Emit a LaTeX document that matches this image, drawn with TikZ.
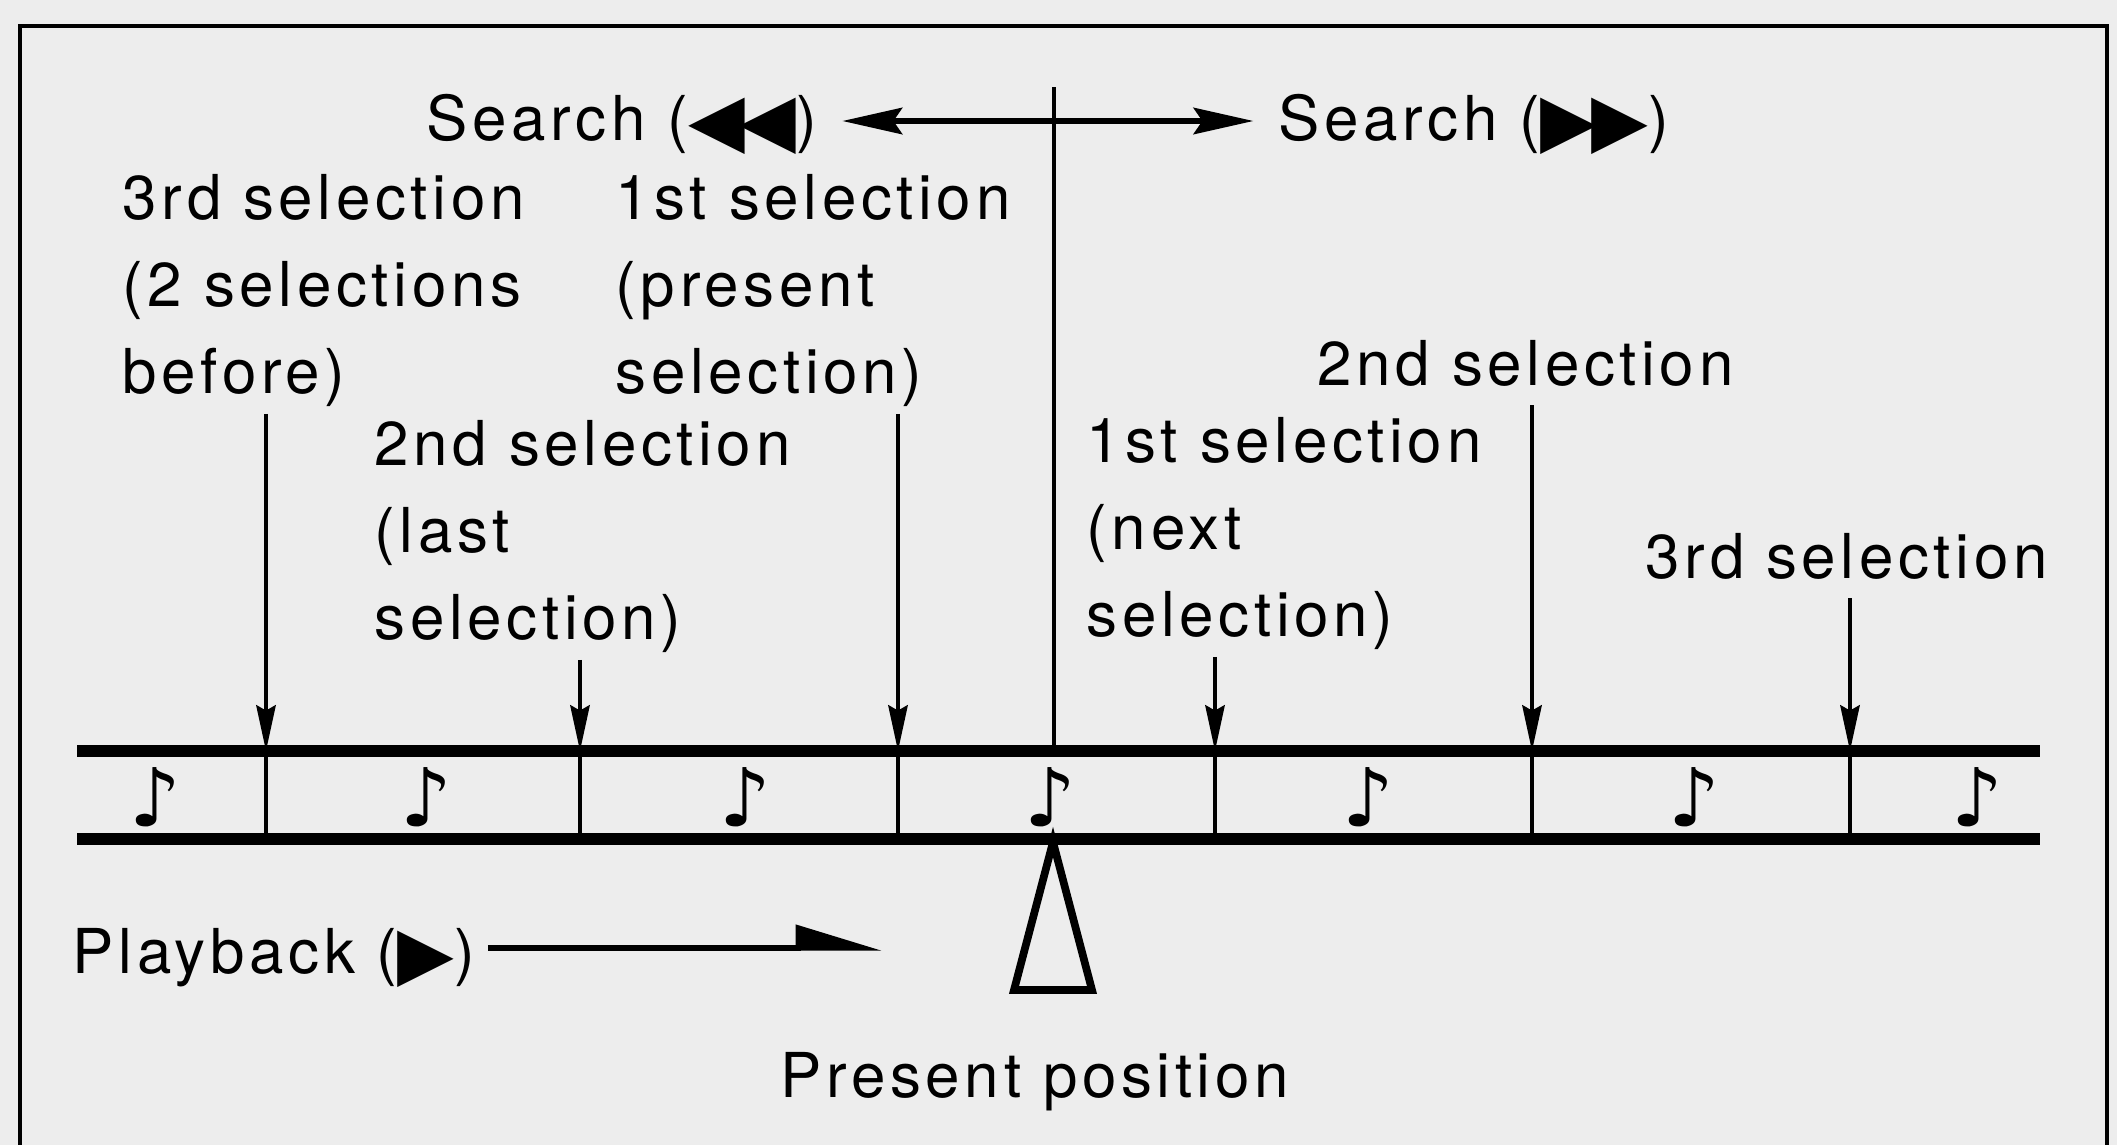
\documentclass[tikz,border=0pt]{standalone}
\usepackage{fontspec}
\setmainfont{TeX Gyre Heros}[LetterSpace=7.5]
\newfontfamily\symfont{DejaVu Sans}
\usetikzlibrary{arrows.meta}
\newcommand{\rewsym}{{\symfont\fontsize{21}{21}\selectfont\raisebox{-1.5pt}{◀\kern-1.5pt◀}}}
\newcommand{\ffsym}{{\symfont\fontsize{21}{21}\selectfont\raisebox{-1.5pt}{▶\kern-1.5pt▶}}}
\newcommand{\playsym}{{\symfont\fontsize{21}{21}\selectfont\raisebox{-1.5pt}{▶}}}
\tikzset{
  lbl/.style={anchor=base west, align=left, inner sep=0pt,
    font=\fontsize{17.6}{24.7}\selectfont},
  frame/.style={line width=1.3pt},
  tape/.style={line width=3.4pt},
  tick/.style={line width=1.2pt},
  pick/.style={tick, shorten <=2pt, -{Stealth[length=13pt,width=5.5pt,inset=1.5pt]}},
  srch/.style={line width=1.6pt, shorten <=7pt, shorten >=7pt,
    {Stealth[length=17pt,width=7.5pt,inset=2.5pt]}-{Stealth[length=17pt,width=7.5pt,inset=2.5pt]}},
  playarrow/.style={line width=1.5pt, shorten <=3.5pt, -{Triangle[harpoon,length=22pt,width=13pt]}},
  marker/.style={line width=2.2pt, line join=miter},
  quaver/.style={inner sep=0pt, font=\symfont\fontsize{23}{23}\selectfont}
}
\begin{document}
\begin{tikzpicture}[x=0.01cm, y=-0.01cm, line cap=butt]
\useasboundingbox (0,0) rectangle (2117,1145);
\fill[black!7] (0,0) rectangle (2117,1145);
\draw[frame] (20,1145) -- (20,26) -- (2107,26) -- (2107,1145);

% labels (base = last line)
\node[lbl] (srchL) at (426,140) {Search (\rewsym)};
\node[lbl] (srchR) at (1278,140) {Search (\ffsym)};
\node[lbl] (sel3L) at (122,393) {3rd selection\\(2 selections\\before)};
\node[lbl] (sel1L) at (615,393) {1st selection\\(present\\selection)};
\node[lbl] (sel2L) at (374,639) {2nd selection\\(last\\selection)};
\node[lbl] (sel1R) at (1086,636) {1st selection\\(next\\selection)};
\node[lbl, text depth=3.6pt] (sel2R) at (1317,385) {2nd selection};
\node[lbl, text depth=3.6pt] (sel3R) at (1645,578) {3rd selection};
\node[lbl] (play) at (72,973) {Playback (\playsym)};
\node[lbl] (pres) at (780,1097) {Present position};

% tape
\coordinate (tapeNW) at (77,751);
\coordinate (tapeNE) at (2040,751);
\coordinate (tapeSW) at (77,839);
\coordinate (tapeSE) at (2040,839);
\draw[tape] (tapeNW) -- (tapeNE);
\draw[tape] (tapeSW) -- (tapeSE);

% search direction
\coordinate (top) at (1054,87);
\coordinate (hub) at (1054,121);
\draw[tick] (top) -- (top |- tapeNW);
\draw[srch] (srchL.east |- hub) -- (srchR.west |- hub);

% selection starts
\foreach \lbl/\x [count=\i] in {sel3L/266,sel2L/580,sel1L/898,sel1R/1215,sel2R/1532,sel3R/1850}{
  \coordinate (t\i) at (\x,751);
  \draw[pick] (\lbl.south -| t\i) -- (t\i);
  \draw[tick] (t\i) -- (t\i |- tapeSW);
}

% notes
\foreach \x [count=\i] in {155,426,745,1050,1368,1694,1977}
  \node[quaver] (n\i) at (\x,797) {♪};

% present position
\coordinate (pb) at (882,948);
\draw[playarrow] (play.east |- pb) -- (pb);
\draw[marker] (1053,842) -- (1014,990) -- (1092,990) -- cycle;
\end{tikzpicture}
\end{document}
